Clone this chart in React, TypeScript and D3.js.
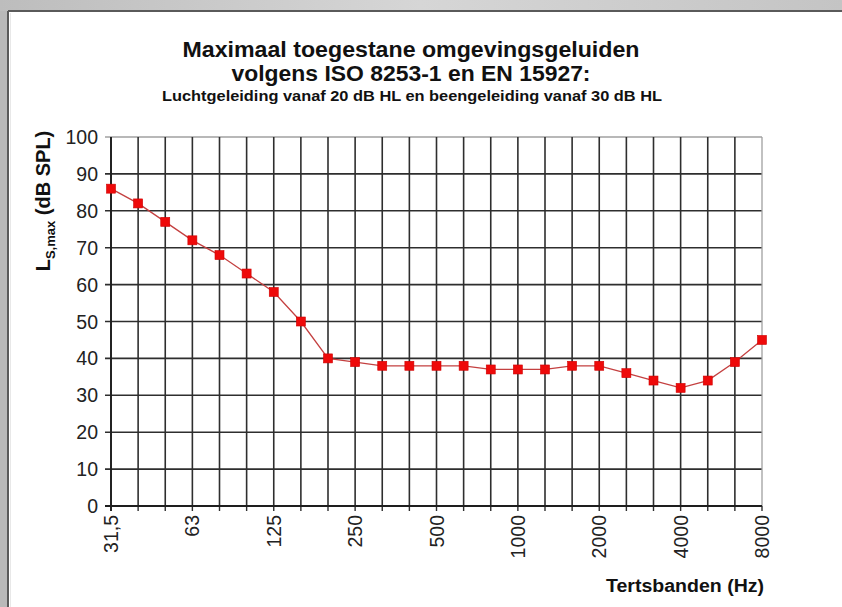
import React from 'react';
import * as d3 from 'd3';

// third-octave bands (Hz), Dutch decimal comma
const bands = ['31,5', '40', '50', '63', '80', '100', '125', '160', '200', '250', '315', '400', '500',
  '630', '800', '1000', '1250', '1600', '2000', '2500', '3150', '4000', '5000', '6300', '8000'];
const labelledBands = ['31,5', '63', '125', '250', '500', '1000', '2000', '4000', '8000'];
const lsMax = [86, 82, 77, 72, 68, 63, 58, 50, 40, 39, 38, 38, 38, 38, 37, 37, 37, 38, 38, 36, 34, 32, 34, 39, 45];
const yTicks = [0, 10, 20, 30, 40, 50, 60, 70, 80, 90, 100];

const W = 842;
const H = 607;
const plot = { left: 111, right: 762, top: 137, bottom: 506 };
const font = 'Arial, "Liberation Sans", sans-serif';

const App = () => {
  const x = d3.scalePoint<string>().domain(bands).range([plot.left, plot.right]);
  const y = d3.scaleLinear().domain([0, 100]).range([plot.bottom, plot.top]);

  const line = d3.line<number>()
    .x((d, i) => x(bands[i]) as number)
    .y(d => y(d));

  const grid = '#2e2e2e';
  const border = '#a0a0a0';

  return (
    <div style={{ position: 'absolute', left: 0, top: 0 }}>
      <svg width={W} height={H} style={{ display: 'block' }}>
        <defs>
          <linearGradient id="topband" x1="0" x2="1" y1="0" y2="0">
            <stop offset="0" stopColor="#bdbdbd" />
            <stop offset="0.5" stopColor="#d6d6d6" />
            <stop offset="1" stopColor="#c4c4c4" />
          </linearGradient>
        </defs>
        {/* window frame */}
        <rect x={0} y={0} width={W} height={H} fill="#b9b9b9" />
        <rect x={0} y={0} width={W} height={11} fill="url(#topband)" />
        <rect x={9} y={12} width={W - 9} height={H - 12} fill="#fff" />
        <line x1={8} x2={8} y1={11} y2={H} stroke="#5a5a5a" strokeWidth={2} />
        <line x1={8} x2={W} y1={11} y2={11} stroke="#5a5a5a" strokeWidth={2} />
        <line x1={10.5} x2={10.5} y1={13} y2={H} stroke="#e8e8e8" strokeWidth={1} />

        {/* titles */}
        <g fontFamily={font} fill="#111" textAnchor="middle">
          <text x={411} y={57} fontSize={22} fontWeight="bold" textLength={457} lengthAdjust="spacingAndGlyphs">
            Maximaal toegestane omgevingsgeluiden
          </text>
          <text x={411} y={81} fontSize={22} fontWeight="bold" textLength={359} lengthAdjust="spacingAndGlyphs">
            volgens ISO 8253-1 en EN 15927:
          </text>
          <text x={412} y={101} fontSize={14} fontWeight="bold" textLength={500} lengthAdjust="spacingAndGlyphs">
            Luchtgeleiding vanaf 20 dB HL en beengeleiding vanaf 30 dB HL
          </text>
        </g>

        {/* horizontal grid + y ticks */}
        {yTicks.map(t => (
          <line key={'h' + t} x1={plot.left - 6} x2={plot.right} y1={y(t)} y2={y(t)}
            stroke={t === 100 ? border : grid} strokeWidth={t === 100 ? 1.3 : 1.6} />
        ))}
        {/* vertical grid + x ticks */}
        {bands.map((b, i) => (
          <g key={'v' + b}>
            <line x1={x(b)} x2={x(b)} y1={plot.top} y2={plot.bottom}
              stroke={i === bands.length - 1 ? border : grid} strokeWidth={i === bands.length - 1 ? 1.3 : 1.6} />
            <line x1={x(b)} x2={x(b)} y1={plot.bottom} y2={plot.bottom + 5} stroke={grid} strokeWidth={1.4} />
          </g>
        ))}
        <line x1={plot.left} x2={plot.left} y1={plot.top} y2={plot.bottom + 5} stroke="#1e1e1e" strokeWidth={1.8} />
        <line x1={plot.left - 6} x2={plot.right} y1={plot.bottom} y2={plot.bottom} stroke="#1e1e1e" strokeWidth={1.8} />

        {/* y tick labels */}
        <g fontFamily={font} fontSize={19.5} fill="#222" textAnchor="end">
          {yTicks.map(t => (
            <text key={'yl' + t} x={98} y={y(t) + 7}>{t}</text>
          ))}
        </g>

        {/* x tick labels, rotated */}
        <g fontFamily={font} fontSize={19.5} fill="#222" textAnchor="end">
          {labelledBands.map(b => (
            <text key={'xl' + b} transform={`translate(${(x(b) as number) + 7},${plot.bottom + 9}) rotate(-90)`}>{b}</text>
          ))}
        </g>

        {/* axis titles */}
        <text transform="translate(50,201) rotate(-90)" fontFamily={font} fontWeight="bold" fontSize={20}
          fill="#111" textAnchor="middle">
          L<tspan fontSize={13} dy={5}>S,max</tspan><tspan dy={-5}> (dB SPL)</tspan>
        </text>
        <text x={764} y={592} fontFamily={font} fontWeight="bold" fontSize={18} fill="#111" textAnchor="end"
          textLength={158} lengthAdjust="spacingAndGlyphs">
          Tertsbanden (Hz)
        </text>

        {/* series */}
        <path d={line(lsMax) as string} fill="none" stroke="#c44040" strokeWidth={1.3} />
        {lsMax.map((v, i) => (
          <rect key={'m' + i} x={(x(bands[i]) as number) - 4.5} y={y(v) - 4.5} width={9} height={9}
            fill="#ee0a0a" stroke="#d00000" strokeWidth={0.6} />
        ))}
      </svg>
    </div>
  );
};

export default App;
